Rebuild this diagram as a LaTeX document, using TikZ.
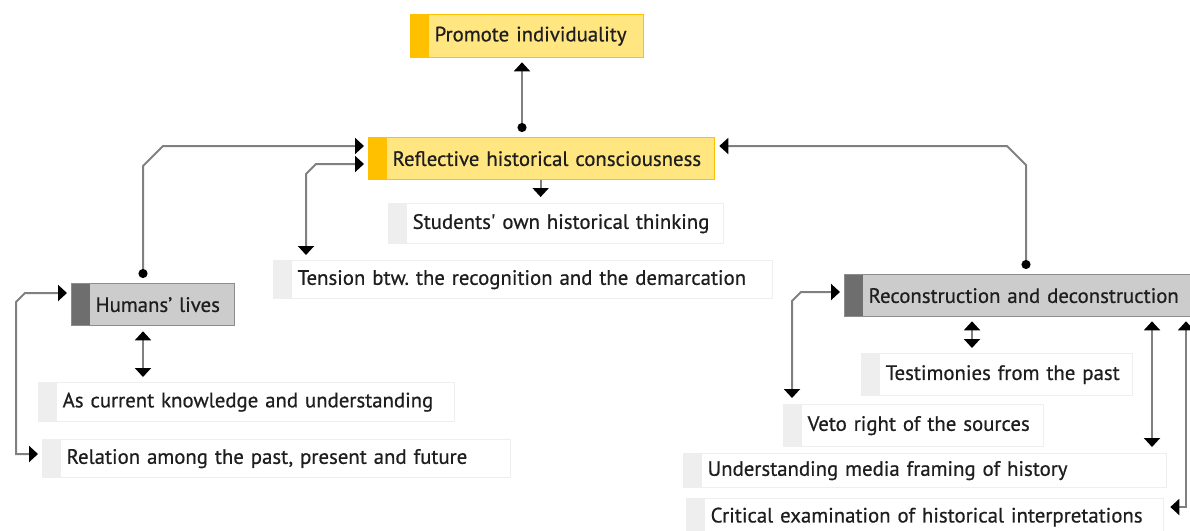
\documentclass[tikz,border=0pt]{standalone}
\usepackage{fontspec}
\newfontfamily\lab[FakeBold=0.6]{PT Sans}
\usetikzlibrary{arrows.meta}
\definecolor{ylwfill}{HTML}{FFE680}
\definecolor{ylwline}{HTML}{FFC000}
\definecolor{gryfill}{HTML}{CCCCCC}
\definecolor{gryline}{HTML}{8C8C8C}
\definecolor{grybar}{HTML}{6E6E6E}
\definecolor{palebar}{HTML}{EEEEEE}
\definecolor{wirecol}{HTML}{808080}
\definecolor{ink}{HTML}{1E1E1E}
\tikzset{
  hd/.tip={Triangle[width=16pt,length=9pt,color=black]},
  bl/.tip={Circle[length=9pt,color=black]},
  box/.style={anchor=north west, rectangle, inner xsep=0pt, inner ysep=0pt,
    align=left, text=ink, font=\lab\fontsize{20.8}{23}\selectfont\frenchspacing,
    execute at begin node={\hspace*{24pt}}},
  barred/.style={path picture={\fill[#1] (path picture bounding box.north west)
    rectangle ([xshift=18pt]path picture bounding box.south west);}},
  ybox/.style={box, fill=ylwfill, draw=ylwline, line width=1.3pt, barred=ylwline},
  gbox/.style={box, fill=gryfill, draw=gryline, line width=1.3pt, barred=grybar},
  wbox/.style={box, fill=white, draw=palebar, line width=1.3pt, barred=palebar},
  wire/.style={draw=wirecol, line width=2pt},
}
\begin{document}
\begin{tikzpicture}[x=1pt,y=-1pt]
\useasboundingbox (0,0) rectangle (1190,530);
\clip (0,0) rectangle (1190,530);

% boxes
\node[ybox, text width=233pt, minimum height=43pt] (prom) at (410,14) {Promote individuality};
\node[ybox, text width=346pt, minimum height=42pt] (refl) at (368,137) {Reflective historical consciousness};
\node[wbox, text width=335pt, minimum height=40pt] (stud) at (388,203) {Students' own historical thinking};
\node[wbox, text width=499pt, minimum height=38pt] (tens) at (273,260) {Tension btw. the recognition and the demarcation};
\node[gbox, text width=163pt, minimum height=42pt] (hum) at (71,283) {Humans’ lives};
\node[wbox, text width=416pt, minimum height=39pt] (asc) at (38,382) {As current knowledge and understanding};
\node[wbox, text width=468pt, minimum height=38pt] (rel) at (42,439) {Relation among the past, present and future};
\node[gbox, text width=390pt, minimum height=42pt] (rec) at (844,274) {Reconstruction and deconstruction};
\node[wbox, text width=271pt, minimum height=42pt] (test) at (861,353) {Testimonies from the past};
\node[wbox, text width=260pt, minimum height=42pt] (veto) at (783,404) {Veto right of the sources};
\node[wbox, text width=483pt, minimum height=34pt] (und) at (683,453) {Understanding media framing of history};
\node[wbox, text width=477pt, minimum height=37pt] (crit) at (686,498) {Critical examination of historical interpretations};

% bend points
\coordinate (a1) at (522,100);
\coordinate (b1) at (143,166);
\coordinate (b2) at (163,146);
\coordinate (c1) at (316,164);
\coordinate (c2) at (306,174);
\coordinate (e1) at (1007,146);
\coordinate (e2) at (1026,165);
\coordinate (f1) at (25,293);
\coordinate (f2) at (16,302);
\coordinate (f3) at (16,454);
\coordinate (h1) at (801,292);
\coordinate (h2) at (792,301);
\coordinate (i1) at (972,335);
\coordinate (j1) at (1152,385);
\coordinate (k1) at (1186,507);

% connectors
\draw[wire, bl-hd, shorten <=5pt, shorten >=4pt] (refl.north -| a1) -- (prom.south -| a1);
\draw[wire, bl-hd, shorten <=5pt, shorten >=4pt] (hum.north -| b1) -- (b1) -- (b2) -- (refl.west |- b2);
\draw[wire, hd-hd, shorten <=4pt, shorten >=5pt] (refl.west |- c1) -- (c1) -- (c2) -- (c2 |- tens.north);
\draw[wire, -hd, shorten >=6pt] ([xshift=-1pt]refl.south) -- ([xshift=-1pt]refl.south |- stud.north);
\draw[wire, hd-bl, shorten <=4pt, shorten >=5pt] (refl.east |- e1) -- (e1) -- (e2) -- (e2 |- rec.north);
\draw[wire, hd-hd, shorten <=4pt, shorten >=4pt] (hum.west |- f1) -- (f1) -- (f2) -- (f3) -- (rel.west |- f3);
\draw[wire, hd-hd, shorten <=5pt, shorten >=5pt] (hum.south -| b1) -- (asc.north -| b1);
\draw[wire, hd-hd, shorten <=4pt, shorten >=6pt] (rec.west |- h1) -- (h1) -- (h2) -- (h2 |- veto.north);
\draw[wire, hd-hd, shorten <=4pt, shorten >=5pt] (rec.south -| i1) -- (test.north -| i1);
\draw[wire, hd-hd, shorten <=4pt, shorten >=6pt] (rec.south -| j1) -- (und.north -| j1);
\draw[wire, hd-hd, shorten <=4pt, shorten >=6pt] (rec.south -| k1) -- (k1) -- (crit.east |- k1);
\end{tikzpicture}
\end{document}
